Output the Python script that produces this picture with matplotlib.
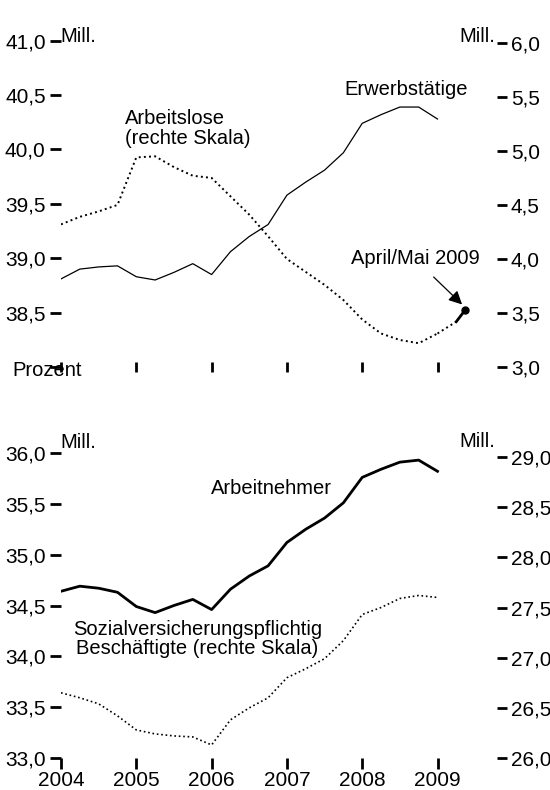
import matplotlib
matplotlib.use("Agg")
import matplotlib.pyplot as plt
import numpy as np

plt.rcParams['font.family'] = ['Liberation Sans', 'DejaVu Sans']

# quarterly positions 2004 Q1 .. 2009 Q1
quarters = [2004.0, 2004.25, 2004.5, 2004.75, 2005.0, 2005.25, 2005.5, 2005.75,
            2006.0, 2006.25, 2006.5, 2006.75, 2007.0, 2007.25, 2007.5, 2007.75,
            2008.0, 2008.25, 2008.5, 2008.75, 2009.0]

# top panel
erwerbstaetige = [38.81, 38.90, 38.92, 38.93, 38.83, 38.80, 38.87, 38.95,
                  38.85, 39.06, 39.20, 39.31, 39.58, 39.70, 39.81, 39.97,
                  40.24, 40.32, 40.39, 40.39, 40.28]
arbeitslose = [4.32, 4.39, 4.44, 4.50, 4.94, 4.95, 4.85, 4.77,
               4.75, 4.58, 4.41, 4.21, 4.00, 3.88, 3.76, 3.62,
               3.44, 3.31, 3.25, 3.22, 3.31]
arbeitslose_ext_x = [2009.0, 2009.25]
arbeitslose_ext = [3.31, 3.42]
aprilmai_x = [2009.25, 2009.37]
aprilmai = [3.42, 3.53]

# bottom panel
arbeitnehmer = [34.64, 34.69, 34.67, 34.63, 34.49, 34.43, 34.50, 34.56,
                34.46, 34.66, 34.79, 34.89, 35.12, 35.25, 35.36, 35.51,
                35.76, 35.84, 35.91, 35.93, 35.82]
svb = [26.65, 26.60, 26.54, 26.42, 26.28, 26.24, 26.22, 26.21,
       26.13, 26.38, 26.50, 26.60, 26.80, 26.89, 26.99, 27.17,
       27.43, 27.50, 27.59, 27.62, 27.60]

years = [2004, 2005, 2006, 2007, 2008, 2009]
top_left_ticks = [38.0, 38.5, 39.0, 39.5, 40.0, 40.5, 41.0]
top_right_ticks = [3.0, 3.5, 4.0, 4.5, 5.0, 5.5, 6.0]
bot_left_ticks = [33.0, 33.5, 34.0, 34.5, 35.0, 35.5, 36.0]
bot_right_ticks = [26.0, 26.5, 27.0, 27.5, 28.0, 28.5, 29.0]

FS = 14.5   # text labels
TS = 15     # tick labels


def de(v):
    return f"{v:.1f}".replace('.', ',')


def style(ax):
    for s in ax.spines.values():
        s.set_visible(False)


fig = plt.figure(figsize=(5.5, 7.9), dpi=100)
xlim = (2004.0, 2009.79)
L, W = 61 / 550, 436 / 550

# ---------- top ----------
ax1 = fig.add_axes([L, (790 - 367) / 790, W, (367 - 40.7) / 790])
ax1r = ax1.twinx()
for a in (ax1, ax1r):
    style(a)
    a.set_xlim(*xlim)
ax1.set_ylim(38.0, 41.0)
ax1r.set_ylim(3.0, 6.02)

ax1.plot(quarters, erwerbstaetige, color='black', lw=0.9)
ax1r.plot(quarters, arbeitslose, color='black', lw=1.4, ls=':')
ax1r.plot(arbeitslose_ext_x, arbeitslose_ext, color='black', lw=1.4, ls=':')
ax1r.plot(aprilmai_x, aprilmai, color='black', lw=2.0)
ax1r.plot(aprilmai_x[-1:], aprilmai[-1:], 'o', color='black', ms=5)

ax1.set_yticks(top_left_ticks)
ax1.set_yticklabels(['' if v == 38.0 else de(v) for v in top_left_ticks])
ax1r.set_yticks(top_right_ticks)
ax1r.set_yticklabels([de(v) for v in top_right_ticks])
ax1.set_xticks(years)
ax1.set_xticklabels([])
ax1.tick_params(axis='x', direction='inout', length=7, width=2)
ax1.tick_params(axis='y', direction='out', length=8, width=2, pad=3, labelsize=TS)
ax1r.tick_params(axis='y', direction='out', length=7, width=2, pad=3, labelsize=TS)

ax1.text(2004.85, 40.19, "Arbeitslose\n(rechte Skala)", fontsize=FS,
         ha='left', va='center', linespacing=1.05)
ax1.text(2008.58, 40.55, "Erwerbstätige", fontsize=FS, ha='center', va='center')
ax1r.annotate("April/Mai 2009", xy=(2009.34, 3.57), xytext=(2008.70, 4.0),
              fontsize=FS, ha='center', va='center',
              arrowprops=dict(arrowstyle='-|>', color='black', lw=0.9,
                              mutation_scale=20, shrinkA=6, shrinkB=1))

fig.text(60 / 550, (790 - 42) / 790, "Mill.", fontsize=FS, ha='left', va='baseline')
fig.text(495 / 550, (790 - 42) / 790, "Mill.", fontsize=FS, ha='right', va='baseline')
fig.text(12 / 550, (790 - 376) / 790, "Prozent", fontsize=FS, ha='left', va='baseline')

# ---------- bottom ----------
ax2 = fig.add_axes([L, (790 - 758) / 790, W, (758 - 453) / 790])
ax2r = ax2.twinx()
for a in (ax2, ax2r):
    style(a)
    a.set_xlim(*xlim)
ax2.set_ylim(33.0, 36.0)
ax2r.set_ylim(26.0, 29.04)

ax2.plot(quarters, arbeitnehmer, color='black', lw=2.0)
ax2r.plot(quarters, svb, color='black', lw=1.2, ls=':')

ax2.set_yticks(bot_left_ticks)
ax2.set_yticklabels([de(v) for v in bot_left_ticks])
ax2r.set_yticks(bot_right_ticks)
ax2r.set_yticklabels([de(v) for v in bot_right_ticks])
ax2.set_xticks(years)
ax2.set_xticklabels([str(y) for y in years])
ax2.tick_params(axis='x', direction='out', length=8, width=2, pad=1, labelsize=TS)
ax2.tick_params(axis='y', direction='out', length=8, width=2, pad=3, labelsize=TS)
ax2r.tick_params(axis='y', direction='out', length=7, width=2, pad=3, labelsize=TS)

ax2.text(2006.79, 35.65, "Arbeitnehmer", fontsize=FS, ha='center', va='center')
ax2.text(2005.81, 34.17, "Sozialversicherungspflichtig\nBeschäftigte (rechte Skala)",
         fontsize=FS, ha='center', va='center', linespacing=1.05)

fig.text(60 / 550, (790 - 448) / 790, "Mill.", fontsize=FS, ha='left', va='baseline')
fig.text(495 / 550, (790 - 447) / 790, "Mill.", fontsize=FS, ha='right', va='baseline')

fig.savefig("out.png", dpi=100)
